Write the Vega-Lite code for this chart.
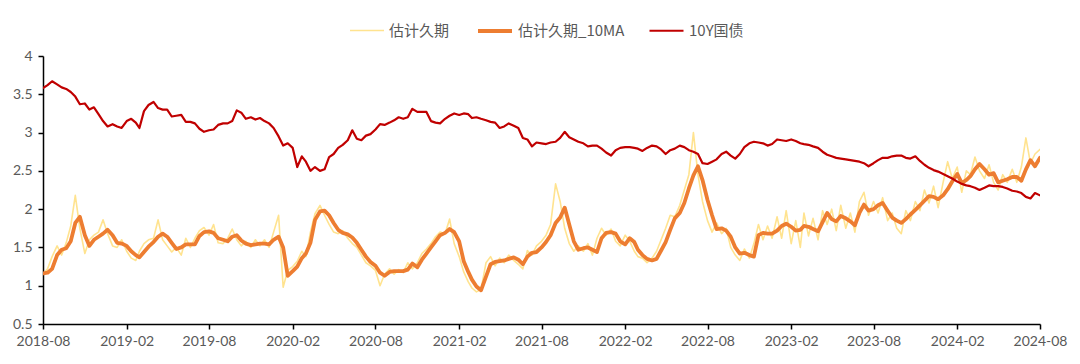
{
  "$schema": "https://vega.github.io/schema/vega-lite/v6.json",
  "autosize": {"type": "none"},
  "width": 997,
  "height": 268,
  "padding": {"left": 43, "top": 56, "right": 40, "bottom": 40},
  "background": "white",
  "config": {"view": {"stroke": null}},
  "data": {"values": [
{"d":"2018-08-01","raw":1.15,"ma":1.16,"y10":3.58},
{"d":"2018-08-11","raw":1.22,"ma":1.17,"y10":3.62},
{"d":"2018-08-21","raw":1.38,"ma":1.22,"y10":3.67},
{"d":"2018-09-01","raw":1.52,"ma":1.40,"y10":3.63},
{"d":"2018-09-11","raw":1.40,"ma":1.47,"y10":3.59},
{"d":"2018-09-21","raw":1.56,"ma":1.49,"y10":3.57},
{"d":"2018-10-01","raw":1.78,"ma":1.58,"y10":3.53},
{"d":"2018-10-11","raw":2.18,"ma":1.82,"y10":3.47},
{"d":"2018-10-21","raw":1.75,"ma":1.90,"y10":3.37},
{"d":"2018-11-01","raw":1.42,"ma":1.66,"y10":3.38},
{"d":"2018-11-11","raw":1.60,"ma":1.52,"y10":3.30},
{"d":"2018-11-21","raw":1.66,"ma":1.60,"y10":3.33},
{"d":"2018-12-01","raw":1.70,"ma":1.64,"y10":3.24},
{"d":"2018-12-11","raw":1.86,"ma":1.68,"y10":3.15},
{"d":"2018-12-21","raw":1.68,"ma":1.73,"y10":3.08},
{"d":"2019-01-01","raw":1.52,"ma":1.66,"y10":3.11},
{"d":"2019-01-11","raw":1.50,"ma":1.56,"y10":3.08},
{"d":"2019-01-21","raw":1.60,"ma":1.55,"y10":3.06},
{"d":"2019-02-01","raw":1.45,"ma":1.52,"y10":3.15},
{"d":"2019-02-11","raw":1.36,"ma":1.45,"y10":3.18},
{"d":"2019-02-21","raw":1.33,"ma":1.40,"y10":3.13},
{"d":"2019-03-01","raw":1.45,"ma":1.37,"y10":3.06},
{"d":"2019-03-11","raw":1.55,"ma":1.44,"y10":3.28},
{"d":"2019-03-21","raw":1.60,"ma":1.51,"y10":3.36},
{"d":"2019-04-01","raw":1.62,"ma":1.57,"y10":3.40},
{"d":"2019-04-11","raw":1.86,"ma":1.64,"y10":3.32},
{"d":"2019-04-21","raw":1.60,"ma":1.68,"y10":3.30},
{"d":"2019-05-01","raw":1.52,"ma":1.64,"y10":3.30},
{"d":"2019-05-11","raw":1.44,"ma":1.56,"y10":3.21},
{"d":"2019-05-21","raw":1.50,"ma":1.48,"y10":3.22},
{"d":"2019-06-01","raw":1.40,"ma":1.50,"y10":3.23},
{"d":"2019-06-11","raw":1.62,"ma":1.54,"y10":3.14},
{"d":"2019-06-21","raw":1.50,"ma":1.54,"y10":3.14},
{"d":"2019-07-01","raw":1.62,"ma":1.54,"y10":3.12},
{"d":"2019-07-11","raw":1.72,"ma":1.65,"y10":3.05},
{"d":"2019-07-21","raw":1.76,"ma":1.70,"y10":3.01},
{"d":"2019-08-01","raw":1.66,"ma":1.71,"y10":3.03},
{"d":"2019-08-11","raw":1.80,"ma":1.69,"y10":3.04},
{"d":"2019-08-21","raw":1.56,"ma":1.62,"y10":3.10},
{"d":"2019-09-01","raw":1.55,"ma":1.60,"y10":3.12},
{"d":"2019-09-11","raw":1.62,"ma":1.58,"y10":3.12},
{"d":"2019-09-21","raw":1.74,"ma":1.64,"y10":3.15},
{"d":"2019-10-01","raw":1.60,"ma":1.66,"y10":3.29},
{"d":"2019-10-11","raw":1.52,"ma":1.59,"y10":3.26},
{"d":"2019-10-21","raw":1.58,"ma":1.55,"y10":3.18},
{"d":"2019-11-01","raw":1.50,"ma":1.53,"y10":3.20},
{"d":"2019-11-11","raw":1.60,"ma":1.54,"y10":3.17},
{"d":"2019-11-21","raw":1.52,"ma":1.55,"y10":3.19},
{"d":"2019-12-01","raw":1.60,"ma":1.55,"y10":3.15},
{"d":"2019-12-11","raw":1.50,"ma":1.54,"y10":3.12},
{"d":"2019-12-21","raw":1.70,"ma":1.60,"y10":3.06},
{"d":"2020-01-01","raw":1.92,"ma":1.64,"y10":2.95},
{"d":"2020-01-11","raw":0.98,"ma":1.50,"y10":2.83},
{"d":"2020-01-21","raw":1.20,"ma":1.13,"y10":2.86},
{"d":"2020-02-01","raw":1.25,"ma":1.19,"y10":2.80},
{"d":"2020-02-11","raw":1.32,"ma":1.25,"y10":2.55},
{"d":"2020-02-21","raw":1.45,"ma":1.36,"y10":2.69},
{"d":"2020-03-01","raw":1.38,"ma":1.42,"y10":2.62},
{"d":"2020-03-11","raw":1.70,"ma":1.56,"y10":2.50},
{"d":"2020-03-21","raw":1.94,"ma":1.86,"y10":2.55},
{"d":"2020-04-01","raw":2.05,"ma":1.97,"y10":2.50},
{"d":"2020-04-11","raw":1.92,"ma":1.98,"y10":2.52},
{"d":"2020-04-21","raw":1.80,"ma":1.92,"y10":2.68},
{"d":"2020-05-01","raw":1.70,"ma":1.82,"y10":2.72},
{"d":"2020-05-11","raw":1.68,"ma":1.73,"y10":2.80},
{"d":"2020-05-21","raw":1.72,"ma":1.69,"y10":2.84},
{"d":"2020-06-01","raw":1.62,"ma":1.67,"y10":2.90},
{"d":"2020-06-11","raw":1.55,"ma":1.63,"y10":3.03},
{"d":"2020-06-21","raw":1.50,"ma":1.56,"y10":2.92},
{"d":"2020-07-01","raw":1.40,"ma":1.47,"y10":2.90},
{"d":"2020-07-11","raw":1.30,"ma":1.38,"y10":2.96},
{"d":"2020-07-21","raw":1.26,"ma":1.31,"y10":2.98},
{"d":"2020-08-01","raw":1.20,"ma":1.26,"y10":3.04},
{"d":"2020-08-11","raw":1.00,"ma":1.17,"y10":3.11},
{"d":"2020-08-21","raw":1.15,"ma":1.13,"y10":3.10},
{"d":"2020-09-01","raw":1.22,"ma":1.18,"y10":3.13},
{"d":"2020-09-11","raw":1.15,"ma":1.19,"y10":3.16},
{"d":"2020-09-21","raw":1.21,"ma":1.19,"y10":3.20},
{"d":"2020-10-01","raw":1.17,"ma":1.19,"y10":3.18},
{"d":"2020-10-11","raw":1.30,"ma":1.21,"y10":3.20},
{"d":"2020-10-21","raw":1.22,"ma":1.29,"y10":3.31},
{"d":"2020-11-01","raw":1.30,"ma":1.24,"y10":3.27},
{"d":"2020-11-11","raw":1.42,"ma":1.34,"y10":3.27},
{"d":"2020-11-21","raw":1.48,"ma":1.42,"y10":3.27},
{"d":"2020-12-01","raw":1.55,"ma":1.50,"y10":3.15},
{"d":"2020-12-11","raw":1.64,"ma":1.58,"y10":3.13},
{"d":"2020-12-21","raw":1.70,"ma":1.66,"y10":3.12},
{"d":"2021-01-01","raw":1.68,"ma":1.69,"y10":3.18},
{"d":"2021-01-11","raw":1.87,"ma":1.74,"y10":3.22},
{"d":"2021-01-21","raw":1.55,"ma":1.70,"y10":3.25},
{"d":"2021-02-01","raw":1.38,"ma":1.58,"y10":3.23},
{"d":"2021-02-11","raw":1.18,"ma":1.32,"y10":3.25},
{"d":"2021-02-21","raw":1.05,"ma":1.18,"y10":3.24},
{"d":"2021-03-01","raw":0.97,"ma":1.08,"y10":3.19},
{"d":"2021-03-11","raw":0.92,"ma":0.99,"y10":3.20},
{"d":"2021-03-21","raw":0.95,"ma":0.94,"y10":3.18},
{"d":"2021-04-01","raw":1.30,"ma":1.12,"y10":3.16},
{"d":"2021-04-11","raw":1.38,"ma":1.28,"y10":3.14},
{"d":"2021-04-21","raw":1.26,"ma":1.31,"y10":3.13},
{"d":"2021-05-01","raw":1.36,"ma":1.32,"y10":3.06},
{"d":"2021-05-11","raw":1.30,"ma":1.33,"y10":3.08},
{"d":"2021-05-21","raw":1.40,"ma":1.35,"y10":3.12},
{"d":"2021-06-01","raw":1.33,"ma":1.37,"y10":3.09},
{"d":"2021-06-11","raw":1.28,"ma":1.34,"y10":3.06},
{"d":"2021-06-21","raw":1.22,"ma":1.28,"y10":2.93},
{"d":"2021-07-01","raw":1.46,"ma":1.38,"y10":2.91},
{"d":"2021-07-11","raw":1.40,"ma":1.43,"y10":2.82},
{"d":"2021-07-21","raw":1.52,"ma":1.44,"y10":2.87},
{"d":"2021-08-01","raw":1.58,"ma":1.50,"y10":2.86},
{"d":"2021-08-11","raw":1.66,"ma":1.57,"y10":2.85},
{"d":"2021-08-21","raw":1.80,"ma":1.66,"y10":2.87},
{"d":"2021-09-01","raw":2.33,"ma":1.82,"y10":2.88},
{"d":"2021-09-11","raw":2.10,"ma":1.89,"y10":2.93},
{"d":"2021-09-21","raw":1.75,"ma":2.02,"y10":3.01},
{"d":"2021-10-01","raw":1.55,"ma":1.80,"y10":2.94},
{"d":"2021-10-11","raw":1.45,"ma":1.58,"y10":2.91},
{"d":"2021-10-21","raw":1.52,"ma":1.47,"y10":2.88},
{"d":"2021-11-01","raw":1.45,"ma":1.49,"y10":2.86},
{"d":"2021-11-11","raw":1.55,"ma":1.50,"y10":2.82},
{"d":"2021-11-21","raw":1.40,"ma":1.47,"y10":2.83},
{"d":"2021-12-01","raw":1.62,"ma":1.44,"y10":2.83},
{"d":"2021-12-11","raw":1.75,"ma":1.62,"y10":2.79},
{"d":"2021-12-21","raw":1.66,"ma":1.69,"y10":2.74},
{"d":"2022-01-01","raw":1.74,"ma":1.70,"y10":2.70},
{"d":"2022-01-11","raw":1.58,"ma":1.68,"y10":2.77},
{"d":"2022-01-21","raw":1.52,"ma":1.58,"y10":2.80},
{"d":"2022-02-01","raw":1.66,"ma":1.54,"y10":2.81},
{"d":"2022-02-11","raw":1.58,"ma":1.62,"y10":2.81},
{"d":"2022-02-21","raw":1.45,"ma":1.57,"y10":2.80},
{"d":"2022-03-01","raw":1.38,"ma":1.47,"y10":2.79},
{"d":"2022-03-11","raw":1.36,"ma":1.40,"y10":2.76},
{"d":"2022-03-21","raw":1.30,"ma":1.35,"y10":2.80},
{"d":"2022-04-01","raw":1.36,"ma":1.33,"y10":2.83},
{"d":"2022-04-11","raw":1.45,"ma":1.35,"y10":2.82},
{"d":"2022-04-21","raw":1.60,"ma":1.46,"y10":2.78},
{"d":"2022-05-01","raw":1.75,"ma":1.57,"y10":2.72},
{"d":"2022-05-11","raw":1.92,"ma":1.73,"y10":2.77},
{"d":"2022-05-21","raw":1.90,"ma":1.88,"y10":2.79},
{"d":"2022-06-01","raw":2.05,"ma":1.95,"y10":2.83},
{"d":"2022-06-11","raw":2.25,"ma":2.08,"y10":2.81},
{"d":"2022-06-21","raw":2.45,"ma":2.27,"y10":2.77},
{"d":"2022-07-01","raw":3.00,"ma":2.44,"y10":2.75},
{"d":"2022-07-11","raw":2.45,"ma":2.56,"y10":2.72},
{"d":"2022-07-21","raw":2.10,"ma":2.38,"y10":2.60},
{"d":"2022-08-01","raw":1.85,"ma":2.12,"y10":2.59},
{"d":"2022-08-11","raw":1.70,"ma":1.92,"y10":2.62},
{"d":"2022-08-21","raw":1.82,"ma":1.74,"y10":2.65},
{"d":"2022-09-01","raw":1.68,"ma":1.75,"y10":2.72},
{"d":"2022-09-11","raw":1.75,"ma":1.72,"y10":2.75},
{"d":"2022-09-21","raw":1.50,"ma":1.64,"y10":2.70},
{"d":"2022-10-01","raw":1.40,"ma":1.50,"y10":2.66},
{"d":"2022-10-11","raw":1.33,"ma":1.42,"y10":2.72},
{"d":"2022-10-21","raw":1.48,"ma":1.43,"y10":2.81},
{"d":"2022-11-01","raw":1.36,"ma":1.40,"y10":2.86},
{"d":"2022-11-11","raw":1.55,"ma":1.38,"y10":2.88},
{"d":"2022-11-21","raw":1.80,"ma":1.66,"y10":2.87},
{"d":"2022-12-01","raw":1.60,"ma":1.69,"y10":2.86},
{"d":"2022-12-11","raw":1.78,"ma":1.68,"y10":2.83},
{"d":"2022-12-21","raw":1.62,"ma":1.68,"y10":2.85},
{"d":"2023-01-01","raw":1.90,"ma":1.72,"y10":2.91},
{"d":"2023-01-11","raw":1.62,"ma":1.78,"y10":2.90},
{"d":"2023-01-21","raw":1.98,"ma":1.81,"y10":2.89},
{"d":"2023-02-01","raw":1.55,"ma":1.77,"y10":2.91},
{"d":"2023-02-11","raw":1.85,"ma":1.72,"y10":2.89},
{"d":"2023-02-21","raw":1.50,"ma":1.73,"y10":2.86},
{"d":"2023-03-01","raw":1.95,"ma":1.78,"y10":2.85},
{"d":"2023-03-11","raw":1.65,"ma":1.77,"y10":2.84},
{"d":"2023-03-21","raw":1.88,"ma":1.74,"y10":2.82},
{"d":"2023-04-01","raw":1.60,"ma":1.71,"y10":2.80},
{"d":"2023-04-11","raw":1.98,"ma":1.83,"y10":2.75},
{"d":"2023-04-21","raw":1.80,"ma":1.95,"y10":2.71},
{"d":"2023-05-01","raw":2.00,"ma":1.87,"y10":2.69},
{"d":"2023-05-11","raw":1.72,"ma":1.84,"y10":2.67},
{"d":"2023-05-21","raw":2.05,"ma":1.91,"y10":2.66},
{"d":"2023-06-01","raw":1.75,"ma":1.88,"y10":2.65},
{"d":"2023-06-11","raw":1.95,"ma":1.84,"y10":2.64},
{"d":"2023-06-21","raw":1.70,"ma":1.79,"y10":2.63},
{"d":"2023-07-01","raw":2.10,"ma":1.95,"y10":2.62},
{"d":"2023-07-11","raw":2.22,"ma":2.06,"y10":2.60},
{"d":"2023-07-21","raw":1.92,"ma":1.98,"y10":2.56},
{"d":"2023-08-01","raw":2.10,"ma":2.00,"y10":2.60},
{"d":"2023-08-11","raw":1.95,"ma":2.05,"y10":2.64},
{"d":"2023-08-21","raw":2.15,"ma":2.08,"y10":2.67},
{"d":"2023-09-01","raw":1.85,"ma":1.98,"y10":2.67},
{"d":"2023-09-11","raw":1.95,"ma":1.89,"y10":2.69},
{"d":"2023-09-21","raw":1.75,"ma":1.85,"y10":2.70},
{"d":"2023-10-01","raw":1.68,"ma":1.82,"y10":2.70},
{"d":"2023-10-11","raw":1.98,"ma":1.87,"y10":2.67},
{"d":"2023-10-21","raw":1.85,"ma":1.93,"y10":2.66},
{"d":"2023-11-01","raw":2.10,"ma":1.99,"y10":2.69},
{"d":"2023-11-11","raw":1.98,"ma":2.05,"y10":2.63},
{"d":"2023-11-21","raw":2.25,"ma":2.11,"y10":2.58},
{"d":"2023-12-01","raw":2.08,"ma":2.17,"y10":2.54},
{"d":"2023-12-11","raw":2.30,"ma":2.16,"y10":2.51},
{"d":"2023-12-21","raw":2.02,"ma":2.13,"y10":2.49},
{"d":"2024-01-01","raw":2.35,"ma":2.18,"y10":2.46},
{"d":"2024-01-11","raw":2.62,"ma":2.26,"y10":2.43},
{"d":"2024-01-21","raw":2.40,"ma":2.36,"y10":2.40},
{"d":"2024-02-01","raw":2.55,"ma":2.46,"y10":2.36},
{"d":"2024-02-11","raw":2.22,"ma":2.34,"y10":2.33},
{"d":"2024-02-21","raw":2.50,"ma":2.38,"y10":2.31},
{"d":"2024-03-01","raw":2.45,"ma":2.43,"y10":2.30},
{"d":"2024-03-11","raw":2.68,"ma":2.52,"y10":2.28},
{"d":"2024-03-21","raw":2.50,"ma":2.59,"y10":2.25},
{"d":"2024-04-01","raw":2.40,"ma":2.52,"y10":2.28},
{"d":"2024-04-11","raw":2.58,"ma":2.45,"y10":2.31},
{"d":"2024-04-21","raw":2.35,"ma":2.47,"y10":2.30},
{"d":"2024-05-01","raw":2.25,"ma":2.35,"y10":2.30},
{"d":"2024-05-11","raw":2.45,"ma":2.37,"y10":2.29},
{"d":"2024-05-21","raw":2.35,"ma":2.39,"y10":2.27},
{"d":"2024-06-01","raw":2.52,"ma":2.42,"y10":2.24},
{"d":"2024-06-11","raw":2.35,"ma":2.42,"y10":2.23},
{"d":"2024-06-21","raw":2.55,"ma":2.37,"y10":2.21},
{"d":"2024-07-01","raw":2.93,"ma":2.52,"y10":2.16},
{"d":"2024-07-11","raw":2.60,"ma":2.64,"y10":2.14},
{"d":"2024-07-21","raw":2.72,"ma":2.56,"y10":2.21},
{"d":"2024-08-01","raw":2.78,"ma":2.67,"y10":2.18}
  ]},
  "transform": [{"fold": ["raw", "ma", "y10"], "as": ["s", "v"]}],
  "mark": {"type": "line", "clip": true, "strokeJoin": "round", "strokeCap": "round"},
  "encoding": {
    "x": {
      "field": "d", "type": "temporal",
      "scale": {"type": "utc", "domain": [{"year": 2018, "month": 8, "date": 1, "utc": true}, {"year": 2024, "month": 8, "date": 1, "utc": true}]},
      "axis": {
        "title": null, "grid": false, "format": "%Y-%m",
        "values": [
          {"year": 2018, "month": 8, "date": 1, "utc": true},
          {"year": 2019, "month": 2, "date": 1, "utc": true},
          {"year": 2019, "month": 8, "date": 1, "utc": true},
          {"year": 2020, "month": 2, "date": 1, "utc": true},
          {"year": 2020, "month": 8, "date": 1, "utc": true},
          {"year": 2021, "month": 2, "date": 1, "utc": true},
          {"year": 2021, "month": 8, "date": 1, "utc": true},
          {"year": 2022, "month": 2, "date": 1, "utc": true},
          {"year": 2022, "month": 8, "date": 1, "utc": true},
          {"year": 2023, "month": 2, "date": 1, "utc": true},
          {"year": 2023, "month": 8, "date": 1, "utc": true},
          {"year": 2024, "month": 2, "date": 1, "utc": true},
          {"year": 2024, "month": 8, "date": 1, "utc": true}
        ],
        "domainColor": "#000000", "domainWidth": 1.5,
        "tickColor": "#000000", "tickSize": 5, "tickWidth": 1.5,
        "labelColor": "#595959", "labelFont": "Lato", "labelFontSize": 14,
        "labelPadding": 5, "labelFlush": false, "labelOverlap": false
      }
    },
    "y": {
      "field": "v", "type": "quantitative",
      "scale": {"domain": [0.5, 4], "nice": false, "zero": false},
      "axis": {
        "title": null, "grid": false, "values": [0.5, 1, 1.5, 2, 2.5, 3, 3.5, 4], "format": "~g",
        "domainColor": "#000000", "domainWidth": 1.5,
        "tickColor": "#000000", "tickSize": 5, "tickWidth": 1.5,
        "labelColor": "#595959", "labelFont": "Lato", "labelFontSize": 14,
        "labelPadding": 6
      }
    },
    "color": {
      "field": "s", "type": "nominal",
      "scale": {"domain": ["raw", "ma", "y10"], "range": ["#FFE38F", "#ED7D31", "#C00000"]},
      "legend": {
        "title": null, "orient": "none", "direction": "horizontal",
        "legendX": 306, "legendY": -44,
        "symbolType": "stroke", "symbolSize": 1156,
        "labelFont": "Noto Sans CJK SC", "labelFontSize": 15, "labelColor": "#595959",
        "labelOffset": 4, "columnPadding": 20,
        "labelExpr": "datum.label == 'raw' ? '估计久期' : (datum.label == 'ma' ? '估计久期_10MA' : '10Y国债')"
      }
    },
    "strokeWidth": {
      "field": "s", "type": "nominal",
      "scale": {"type": "ordinal", "domain": ["raw", "ma", "y10"], "range": [1.6, 3.8, 2.2]}
    }
  }
}
